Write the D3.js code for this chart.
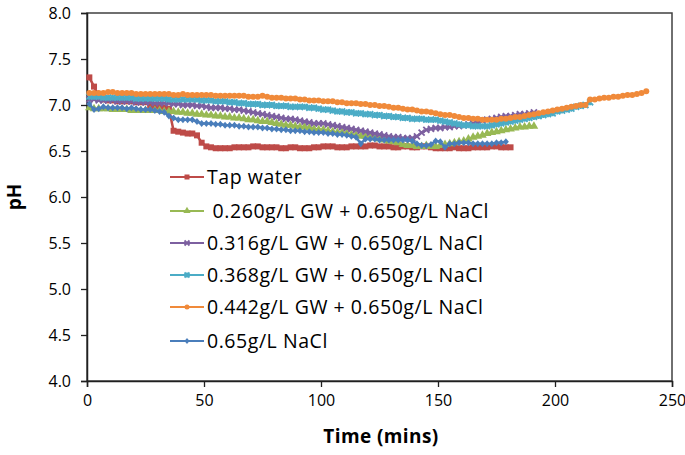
<!DOCTYPE html>
<html><head><meta charset="utf-8">
<script src="https://cdn.jsdelivr.net/npm/d3@7"></script>
<style>body{margin:0;background:#fff}svg{display:block}text{white-space:pre}</style>
</head><body>
<svg id="chart" width="685" height="455"></svg>
<script>
const seriesNames = ["Tap water", " 0.260g/L GW + 0.650g/L NaCl", "0.316g/L GW + 0.650g/L NaCl", "0.368g/L GW + 0.650g/L NaCl", "0.442g/L GW + 0.650g/L NaCl", "0.65g/L NaCl"];
const seriesColors = ["#BE4B48", "#98B954", "#7D60A0", "#4BACC6", "#F08A3A", "#4A7EBB"];
const seriesMarkers = ["square", "triangle", "x", "asterisk", "circle", "diamond"];
const startTime = 1, stepTime = 2;
const xTicks = [0, 50, 100, 150, 200, 250];
const yTicks = [4.0, 4.5, 5.0, 5.5, 6.0, 6.5, 7.0, 7.5, 8.0];

const tapWater = [7.30,7.20,7.10,7.06,7.05,7.05,7.04,7.04,7.04,7.04,7.03,7.03,7.03,6.99,6.98,6.98,6.97,6.96,6.72,6.71,6.70,6.69,6.69,6.67,6.59,6.55,6.54,6.53,6.53,6.53,6.53,6.54,6.54,6.54,6.54,6.55,6.55,6.54,6.54,6.54,6.54,6.53,6.53,6.54,6.54,6.53,6.53,6.53,6.54,6.54,6.55,6.55,6.55,6.54,6.54,6.54,6.55,6.55,6.55,6.55,6.56,6.56,6.55,6.55,6.55,6.54,6.54,6.55,6.55,6.54,6.54,6.55,6.55,6.54,6.53,6.53,6.53,6.53,6.54,6.53,6.53,6.53,6.54,6.54,6.54,6.54,6.55,6.55,6.54,6.54,6.54];
const gw260 = [6.97,6.96,6.96,6.96,6.96,6.95,6.95,6.95,6.95,6.94,6.94,6.94,6.94,6.94,6.94,6.94,6.93,6.93,6.93,6.92,6.92,6.91,6.91,6.90,6.90,6.89,6.89,6.88,6.88,6.87,6.87,6.86,6.86,6.85,6.84,6.84,6.83,6.82,6.82,6.81,6.80,6.79,6.78,6.78,6.77,6.76,6.76,6.75,6.74,6.73,6.73,6.72,6.71,6.70,6.70,6.69,6.68,6.67,6.66,6.66,6.65,6.64,6.63,6.62,6.61,6.60,6.59,6.57,6.56,6.56,6.55,6.55,6.56,6.55,6.55,6.56,6.57,6.58,6.59,6.60,6.61,6.63,6.65,6.66,6.67,6.69,6.70,6.71,6.72,6.73,6.74,6.75,6.76,6.76,6.77,6.77];
const gw316 = [7.06,7.06,7.05,7.05,7.05,7.05,7.04,7.04,7.04,7.04,7.03,7.03,7.03,7.03,7.02,7.02,7.02,7.02,7.01,7.01,7.00,7.00,7.00,6.99,6.99,6.98,6.97,6.97,6.97,6.96,6.96,6.95,6.95,6.94,6.93,6.92,6.91,6.90,6.89,6.88,6.87,6.86,6.85,6.85,6.84,6.83,6.82,6.81,6.80,6.80,6.80,6.79,6.78,6.77,6.76,6.75,6.74,6.73,6.72,6.71,6.70,6.69,6.68,6.67,6.66,6.65,6.65,6.64,6.64,6.64,6.66,6.70,6.73,6.74,6.75,6.75,6.76,6.76,6.77,6.77,6.78,6.79,6.80,6.81,6.83,6.84,6.85,6.86,6.87,6.88,6.88,6.89,6.90,6.90,6.91,6.92];
const gw368 = [7.09,7.09,7.09,7.08,7.08,7.08,7.08,7.08,7.08,7.08,7.07,7.07,7.07,7.07,7.07,7.07,7.07,7.06,7.06,7.06,7.06,7.06,7.06,7.06,7.05,7.05,7.05,7.04,7.04,7.04,7.03,7.03,7.02,7.02,7.01,7.01,7.01,7.00,7.00,7.00,6.99,6.99,6.99,6.98,6.98,6.98,6.98,6.97,6.97,6.96,6.95,6.95,6.94,6.93,6.93,6.92,6.92,6.91,6.91,6.90,6.90,6.89,6.89,6.88,6.88,6.87,6.87,6.86,6.86,6.85,6.85,6.85,6.84,6.84,6.84,6.83,6.82,6.81,6.80,6.79,6.78,6.78,6.77,6.77,6.77,6.77,6.78,6.79,6.80,6.81,6.82,6.83,6.84,6.85,6.86,6.87,6.88,6.89,6.90,6.91,6.93,6.94,6.95,6.96,6.98,6.99,7.00,7.03];
const gw442 = [7.13,7.13,7.13,7.13,7.14,7.14,7.13,7.13,7.13,7.13,7.12,7.12,7.12,7.12,7.12,7.12,7.12,7.12,7.11,7.11,7.12,7.11,7.11,7.11,7.11,7.11,7.11,7.10,7.10,7.10,7.10,7.10,7.10,7.10,7.09,7.09,7.09,7.10,7.09,7.08,7.08,7.08,7.07,7.07,7.07,7.06,7.06,7.05,7.05,7.05,7.04,7.04,7.04,7.03,7.03,7.02,7.02,7.02,7.01,7.01,7.00,7.00,6.99,6.99,6.98,6.97,6.97,6.96,6.95,6.95,6.94,6.93,6.93,6.92,6.91,6.90,6.89,6.89,6.88,6.87,6.86,6.86,6.85,6.85,6.84,6.84,6.84,6.84,6.85,6.85,6.86,6.87,6.87,6.88,6.89,6.90,6.91,6.92,6.93,6.94,6.95,6.96,6.97,6.98,6.99,7.00,7.00,7.06,7.06,7.07,7.08,7.08,7.09,7.09,7.10,7.11,7.11,7.12,7.13,7.15];
const nacl065 = [7.01,6.95,6.96,6.98,6.97,6.97,6.97,6.97,6.96,6.97,6.96,6.95,6.95,6.95,6.94,6.93,6.92,6.88,6.86,6.84,6.84,6.84,6.84,6.82,6.80,6.80,6.80,6.79,6.79,6.78,6.78,6.78,6.77,6.77,6.76,6.76,6.76,6.75,6.75,6.74,6.74,6.73,6.73,6.72,6.72,6.72,6.71,6.71,6.70,6.70,6.70,6.69,6.69,6.68,6.68,6.67,6.66,6.65,6.58,6.63,6.63,6.63,6.62,6.62,6.62,6.62,6.62,6.62,6.62,6.61,6.58,6.56,6.56,6.57,6.61,6.60,6.54,6.58,6.58,6.59,6.59,6.59,6.58,6.58,6.58,6.58,6.58,6.59,6.59,6.60];

const seriesValues = [tapWater, gw260, gw316, gw368, gw442, nacl065];

const svg = d3.select("#chart");
const pL = 87, pR = 672, pT = 13, pB = 381;
const x = d3.scaleLinear().domain([0, 250]).range([pL, pR]);
const y = d3.scaleLinear().domain([4, 8]).range([pB, pT]);
const font = "Open Sans, Liberation Sans, Arial, sans-serif";

svg.append("rect").attr("x", pL).attr("y", pT).attr("width", pR - pL).attr("height", pB - pT)
  .attr("fill", "none").attr("stroke", "#404040").attr("stroke-width", 1.5);

const yAxis = svg.append("g").attr("transform", `translate(${pL},0)`)
  .call(d3.axisLeft(y).tickValues(yTicks).tickFormat(d3.format(".1f")).tickSizeOuter(0).tickSize(6).tickPadding(10));
const xAxis = svg.append("g").attr("transform", `translate(0,${pB})`)
  .call(d3.axisBottom(x).tickValues(xTicks).tickFormat(d3.format("d")).tickSizeOuter(0).tickSize(6).tickPadding(8));
[yAxis, xAxis].forEach(a => {
  a.select(".domain").attr("stroke", "#202020").attr("stroke-width", 1.5);
  a.selectAll(".tick line").attr("stroke", "#202020").attr("stroke-width", 1.3);
  a.selectAll(".tick text").attr("font-family", font).attr("font-size", 16).attr("fill", "#000");
});

svg.append("text").attr("x", 381).attr("y", 443).attr("text-anchor", "middle")
  .attr("font-family", font).attr("font-weight", "bold").attr("font-size", 19).attr("letter-spacing", 0.4).text("Time (mins)");
svg.append("text").attr("transform", "translate(21,197) rotate(-90)").attr("text-anchor", "middle")
  .attr("font-family", font).attr("font-weight", "bold").attr("font-size", 19).text("pH");

function marker(g, type, color, s) {
  if (type === "square") g.append("rect").attr("x", -s/2).attr("y", -s/2).attr("width", s).attr("height", s).attr("fill", color);
  else if (type === "triangle") g.append("path").attr("d", d3.symbol(d3.symbolTriangle, s*s*0.9)()).attr("fill", color);
  else if (type === "circle") g.append("circle").attr("r", s/2).attr("fill", color);
  else if (type === "diamond") g.append("path").attr("d", `M0,${-s/2-0.5}L${s/2},0L0,${s/2+0.5}L${-s/2},0Z`).attr("fill", color);
  else if (type === "x") g.append("path").attr("d", `M${-s/2},${-s/2}L${s/2},${s/2}M${-s/2},${s/2}L${s/2},${-s/2}`).attr("stroke", color).attr("stroke-width", 1.8);
  else if (type === "asterisk") g.append("path").attr("d", `M${-s/2},${-s/2}L${s/2},${s/2}M${-s/2},${s/2}L${s/2},${-s/2}M0,${-s/2}L0,${s/2}`).attr("stroke", color).attr("stroke-width", 1.8);
}

const line = d3.line().x(d => x(d.t)).y(d => y(d.v));
seriesValues.forEach((vals, i) => {
  const data = vals.map((v, k) => ({t: startTime + k * stepTime, v}));
  const g = svg.append("g");
  g.append("path").datum(data).attr("d", line).attr("fill", "none").attr("stroke", seriesColors[i]).attr("stroke-width", 2.5);
  data.forEach(d => {
    const mg = g.append("g").attr("transform", `translate(${x(d.t)},${y(d.v)})`);
    marker(mg, seriesMarkers[i], seriesColors[i], 6);
  });
});

const legendY = [177, 211, 243, 275, 307, 341];
seriesNames.forEach((name, i) => {
  const g = svg.append("g").attr("transform", `translate(0,${legendY[i]})`);
  g.append("line").attr("x1", 170).attr("x2", 204).attr("stroke", seriesColors[i]).attr("stroke-width", 2.2);
  const mg = g.append("g").attr("transform", "translate(187,0)");
  marker(mg, seriesMarkers[i], seriesColors[i], 5);
  g.append("text").attr("x", 207).attr("y", 6.5).attr("font-family", font).attr("font-size", 19.5)
    .attr("letter-spacing", 0.55).attr("fill", "#000").text(name);
});
</script>
</body></html>
